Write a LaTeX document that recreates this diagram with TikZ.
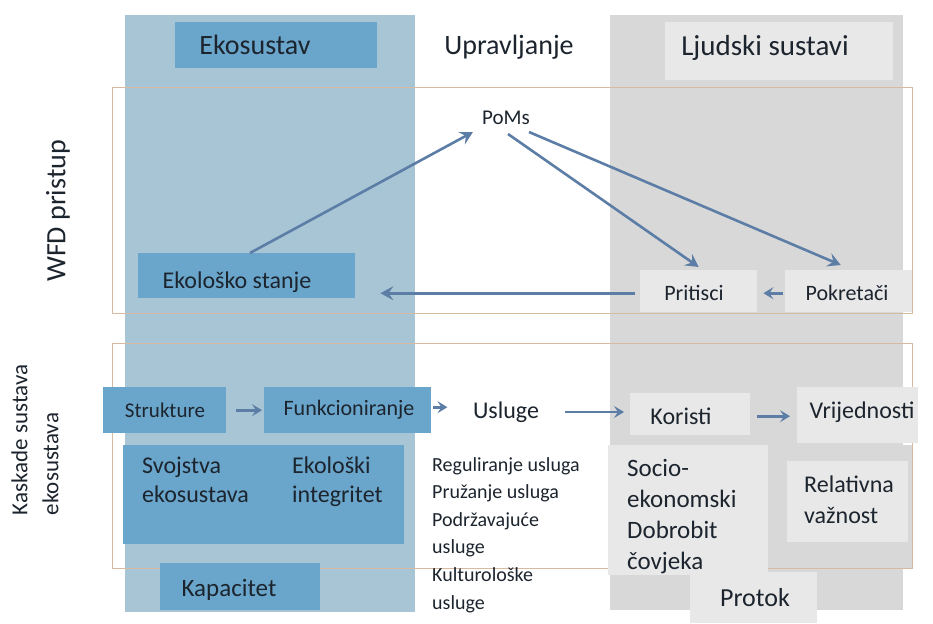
\documentclass[tikz,border=0pt]{standalone}
\usepackage{fontspec}
\setmainfont{Carlito}
\usetikzlibrary{arrows.meta}
\definecolor{colblue}{RGB}{168,197,213}
\definecolor{boxblue}{RGB}{106,166,203}
\definecolor{greycol}{RGB}{216,216,216}
\definecolor{lightbox}{RGB}{232,232,232}
\definecolor{arrc}{RGB}{92,126,166}
\definecolor{framec}{RGB}{214,186,162}
\definecolor{txtc}{RGB}{28,36,46}
\tikzset{
  bbox/.style={fill=boxblue, draw=none, anchor=north west, inner sep=0pt},
  gbox/.style={fill=lightbox, draw=none, anchor=north west, inner sep=0pt},
  txt/.style={text=txtc, inner sep=1pt},
  arr/.style={draw=arrc, line width=2.6pt, -{Stealth[length=13pt,width=14pt,inset=5pt]}},
  sarr/.style={draw=arrc, line width=2.6pt, -{Stealth[length=10pt,width=12pt,inset=4pt]}},
  frm/.style={draw=framec, line width=1pt},
}
\begin{document}
\begin{tikzpicture}[x=1pt,y=-1pt]
\useasboundingbox (0,0) rectangle (933,623);
% columns
\fill[colblue] (125,15) rectangle (415,612);
\fill[greycol] (610,15) rectangle (903,610);
% frames
\draw[frm] (112,88) rectangle (912,313);
\draw[frm] (112,343) rectangle (912,568);
% headers
\node[bbox, minimum width=202pt, minimum height=46pt] (ekob) at (175,22) {};
\node[txt, font=\fontsize{28}{30}\selectfont] (ekot) at (255,45) {Ekosustav};
\node[txt, font=\fontsize{28}{30}\selectfont] (upr) at (509,47) {Upravljanje};
\node[gbox, minimum width=228pt, minimum height=58pt] (ljb) at (665,22) {};
\node[txt, font=\fontsize{29}{30}\selectfont] (ljt) at (765,48) {Ljudski sustavi};
% side labels
\node[txt, rotate=90, font=\fontsize{28}{30}\selectfont] (wfd) at (58,211) {WFD pristup};
\node[txt, rotate=90, align=left, font=\fontsize{23}{31}\selectfont] (kask) at (35,440) {Kaskade sustava\\ekosustava};
% WFD part
\node[txt, font=\fontsize{21}{24}\selectfont] (poms) at (506,118) {PoMs};
\node[bbox, minimum width=217pt, minimum height=45pt] (es) at (138,253) {};
\node[txt, font=\fontsize{24}{28}\selectfont] (est) at (237,282) {Ekološko stanje};
\node[gbox, minimum width=117pt, minimum height=42pt] (prit) at (640,270) {};
\node[txt, font=\fontsize{22}{26}\selectfont] (pritt) at (694,293) {Pritisci};
\node[gbox, minimum width=127pt, minimum height=42pt] (pok) at (785,270) {};
\node[txt, font=\fontsize{22}{26}\selectfont] (pokt) at (847,293) {Pokretači};
\draw[arr] ([xshift=112pt]es.north west) -- ([xshift=-8pt,yshift=-6pt]poms.south west);
\draw[arr] ([xshift=2pt,yshift=-8pt]poms.south) -- ([yshift=3pt]prit.north);
\draw[arr] ([xshift=-2pt,yshift=-6pt]poms.south east) -- ([xshift=-8pt,yshift=5pt]pok.north);
\draw[arr] ([xshift=-5pt,yshift=-2pt]prit.west) -- ([xshift=25pt,yshift=-2pt]es.east |- prit.west);
\draw[sarr] ([xshift=-2pt,yshift=-2pt]pok.west) -- ([xshift=6pt,yshift=-2pt]prit.east);
% cascade part
\node[bbox, minimum width=123pt, minimum height=46pt] (str) at (103,387) {};
\node[txt, font=\fontsize{21}{24}\selectfont] (strt) at (165,410) {Strukture};
\node[bbox, minimum width=167pt, minimum height=46pt] (fun) at (264,387) {};
\node[txt, font=\fontsize{22}{24}\selectfont] (funt) at (349,410) {Funkcioniranje};
\node[txt, font=\fontsize{24}{28}\selectfont] (usl) at (506,412) {Usluge};
\node[gbox, minimum width=120pt, minimum height=42pt] (kor) at (630,393) {};
\node[txt, font=\fontsize{24}{28}\selectfont] (kort) at (681,416) {Koristi};
\node[gbox, minimum width=121pt, minimum height=56pt] (vri) at (797,387) {};
\node[txt, font=\fontsize{24}{28}\selectfont] (vrit) at (862,412) {Vrijednosti};
\draw[sarr] ([xshift=10pt]str.east) -- ([xshift=-2pt]fun.west);
\draw[sarr] ([xshift=2pt,yshift=3pt]fun.east) -- ([xshift=16pt,yshift=3pt]fun.east);
\draw[sarr] ([xshift=25pt]usl.east) -- ([xshift=-6pt]kor.west |- usl.east);
\draw[sarr] ([xshift=7pt,yshift=-2pt]kor.east) -- ([xshift=-7pt,yshift=-2pt]kor.east -| vri.west);
% lower boxes
\node[bbox, minimum width=281pt, minimum height=99pt] (svo) at (123,445) {};
\node[txt, anchor=north west, align=left, font=\fontsize{24}{29}\selectfont] (svot) at (141,456) {Svojstva\\ekosustava};
\node[txt, anchor=north west, align=left, font=\fontsize{24}{29}\selectfont] (ekit) at (291,456) {Ekološki\\integritet};
\node[bbox, minimum width=160pt, minimum height=47pt] (kap) at (160,563) {};
\node[txt, font=\fontsize{25}{28}\selectfont] (kapt) at (229,590) {Kapacitet};
\node[txt, anchor=north west, align=left, font=\fontsize{20}{27.6}\selectfont] (uslist) at (431,456)
  {Reguliranje usluga\\Pružanje usluga\\Podržavajuće\\usluge\\Kulturološke\\usluge};
\node[fill=greycol, anchor=north west, inner sep=0pt, minimum width=139pt, minimum height=123pt] (vrb) at (773,445) {};
\node[gbox, minimum width=160pt, minimum height=130pt] (soc) at (608,445) {};
\node[gbox, minimum width=127pt, minimum height=51pt] (pro) at (690,572) {};
\node[txt, anchor=north west, align=left, font=\fontsize{25}{31}\selectfont] (soct) at (626,458)
  {Socio-\\ekonomski\\Dobrobit\\čovjeka};
\node[gbox, minimum width=121pt, minimum height=81pt] (rel) at (787,461) {};
\node[txt, anchor=north west, align=left, font=\fontsize{24}{31}\selectfont] (relt) at (803,475) {Relativna\\važnost};
\node[txt, font=\fontsize{26}{30}\selectfont] (prot) at (755,598) {Protok};
\end{tikzpicture}
\end{document}
